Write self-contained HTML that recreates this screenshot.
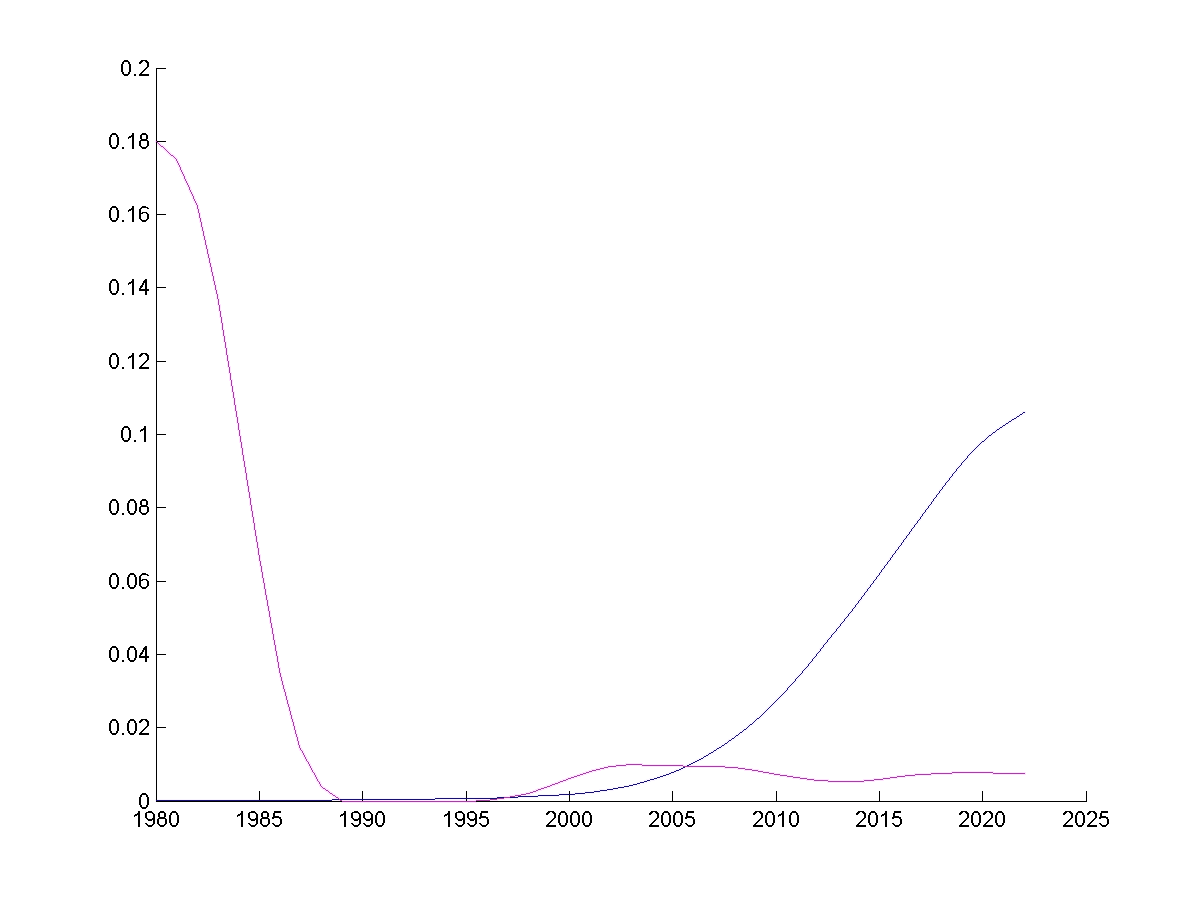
<!DOCTYPE html>
<html><head><meta charset="utf-8"><style>
html,body{margin:0;padding:0;background:#fff;width:1200px;height:900px;overflow:hidden}
svg{display:block}
</style></head><body>
<svg width="1200" height="900" viewBox="0 0 1200 900">
<rect width="1200" height="900" fill="#fff"/>
<path d="M156 800h176v1h-176zM332 799h103v1h-103zM435 798h62v1h-62zM497 797h21v1h-21zM518 796h20v1h-20zM538 795h21v1h-21zM559 794h16v1h-16zM575 793h10v1h-10zM585 792h9v1h-9zM594 791h6v1h-6zM600 790h7v1h-7zM607 789h6v1h-6zM613 788h5v1h-5zM618 787h6v1h-6zM624 786h5v1h-5zM629 785h4v1h-4zM633 784h4v1h-4zM637 783h3v1h-3zM640 782h4v1h-4zM644 781h3v1h-3zM647 780h3v1h-3zM650 779h4v1h-4zM654 778h3v1h-3zM657 777h3v1h-3zM660 776h3v1h-3zM663 775h3v1h-3zM666 774h3v1h-3zM669 773h2v1h-2zM671 772h3v1h-3zM674 771h2v1h-2zM676 770h3v1h-3zM679 769h2v1h-2zM681 768h2v1h-2zM683 767h2v1h-2zM685 766h2v1h-2zM687 765h2v1h-2zM689 764h2v1h-2zM691 763h2v1h-2zM693 762h2v1h-2zM695 761h2v1h-2zM697 760h2v1h-2zM699 759h2v1h-2zM701 758h2v1h-2zM703 757h1v1h-1zM704 756h2v1h-2zM706 755h2v1h-2zM708 754h1v1h-1zM709 753h2v1h-2zM711 752h2v1h-2zM713 751h1v1h-1zM714 750h2v1h-2zM716 749h1v1h-1zM717 748h2v1h-2zM719 747h2v1h-2zM721 746h1v1h-1zM722 745h2v1h-2zM724 744h1v1h-1zM725 743h2v1h-2zM727 742h1v1h-1zM728 741h1v1h-1zM729 740h2v1h-2zM731 739h1v1h-1zM732 738h2v1h-2zM734 737h1v1h-1zM735 736h1v1h-1zM736 735h2v1h-2zM738 734h1v1h-1zM739 733h1v1h-1zM740 732h2v1h-2zM742 731h1v1h-1zM743 730h1v1h-1zM744 729h2v1h-2zM746 728h1v1h-1zM747 727h1v1h-1zM748 726h1v1h-1zM749 725h1v1h-1zM750 724h2v1h-2zM752 723h1v1h-1zM753 722h1v1h-1zM754 721h1v1h-1zM755 720h1v1h-1zM756 719h1v1h-1zM757 718h2v1h-2zM759 717h1v1h-1zM760 716h1v1h-1zM761 715h1v1h-1zM762 714h1v1h-1zM763 713h1v1h-1zM764 712h1v1h-1zM765 711h1v1h-1zM766 710h1v1h-1zM767 709h1v1h-1zM768 708h1v1h-1zM769 707h1v1h-1zM770 706h1v1h-1zM771 705h1v1h-1zM772 704h1v1h-1zM773 703h1v1h-1zM774 702h1v1h-1zM775 701h1v1h-1zM776 700h1v1h-1zM777 699h1v1h-1zM778 698h1v1h-1zM779 697h1v1h-1zM780 696h1v1h-1zM781 695h1v1h-1zM782 694h1v1h-1zM783 693h1v1h-1zM784 692h1v1h-1zM785 691h1v1h-1zM786 690h1v1h-1zM787 688h1v2h-1zM788 687h1v1h-1zM789 686h1v1h-1zM790 685h1v1h-1zM791 684h1v1h-1zM792 683h1v1h-1zM793 682h1v1h-1zM794 681h1v1h-1zM795 679h1v2h-1zM796 678h1v1h-1zM797 677h1v1h-1zM798 676h1v1h-1zM799 675h1v1h-1zM800 674h1v1h-1zM801 673h1v1h-1zM802 671h1v2h-1zM803 670h1v1h-1zM804 669h1v1h-1zM805 668h1v1h-1zM806 667h1v1h-1zM807 666h1v1h-1zM808 664h1v2h-1zM809 663h1v1h-1zM810 662h1v1h-1zM811 661h1v1h-1zM812 659h1v2h-1zM813 658h1v1h-1zM814 657h1v1h-1zM815 656h1v1h-1zM816 654h1v2h-1zM817 653h1v1h-1zM818 652h1v1h-1zM819 651h1v1h-1zM820 649h1v2h-1zM821 648h1v1h-1zM822 647h1v1h-1zM823 645h1v2h-1zM824 644h1v1h-1zM825 643h1v1h-1zM826 642h1v1h-1zM827 640h1v2h-1zM828 639h1v1h-1zM829 638h1v1h-1zM830 637h1v1h-1zM831 635h1v2h-1zM832 634h1v1h-1zM833 633h1v1h-1zM834 632h1v1h-1zM835 631h1v1h-1zM836 629h1v2h-1zM837 628h1v1h-1zM838 627h1v1h-1zM839 626h1v1h-1zM840 624h1v2h-1zM841 623h1v1h-1zM842 622h1v1h-1zM843 621h1v1h-1zM844 619h1v2h-1zM845 618h1v1h-1zM846 617h1v1h-1zM847 616h1v1h-1zM848 614h1v2h-1zM849 613h1v1h-1zM850 612h1v1h-1zM851 611h1v1h-1zM852 609h1v2h-1zM853 608h1v1h-1zM854 607h1v1h-1zM855 605h1v2h-1zM856 604h1v1h-1zM857 603h1v1h-1zM858 601h1v2h-1zM859 600h1v1h-1zM860 599h1v1h-1zM861 597h1v2h-1zM862 596h1v1h-1zM863 595h1v1h-1zM864 593h1v2h-1zM865 592h1v1h-1zM866 591h1v1h-1zM867 589h1v2h-1zM868 588h1v1h-1zM869 587h1v1h-1zM870 585h1v2h-1zM871 584h1v1h-1zM872 583h1v1h-1zM873 581h1v2h-1zM874 580h1v1h-1zM875 579h1v1h-1zM876 577h1v2h-1zM877 576h1v1h-1zM878 575h1v1h-1zM879 573h1v2h-1zM880 572h1v1h-1zM881 570h1v2h-1zM882 569h1v1h-1zM883 568h1v1h-1zM884 566h1v2h-1zM885 565h1v1h-1zM886 564h1v1h-1zM887 562h1v2h-1zM888 561h1v1h-1zM889 560h1v1h-1zM890 558h1v2h-1zM891 557h1v1h-1zM892 555h1v2h-1zM893 554h1v1h-1zM894 553h1v1h-1zM895 551h1v2h-1zM896 550h1v1h-1zM897 549h1v1h-1zM898 547h1v2h-1zM899 546h1v1h-1zM900 545h1v1h-1zM901 543h1v2h-1zM902 542h1v1h-1zM903 540h1v2h-1zM904 539h1v1h-1zM905 538h1v1h-1zM906 536h1v2h-1zM907 535h1v1h-1zM908 534h1v1h-1zM909 532h1v2h-1zM910 531h1v1h-1zM911 529h1v2h-1zM912 528h1v1h-1zM913 527h1v1h-1zM914 525h1v2h-1zM915 524h1v1h-1zM916 523h1v1h-1zM917 521h1v2h-1zM918 520h1v1h-1zM919 519h1v1h-1zM920 517h1v2h-1zM921 516h1v1h-1zM922 514h1v2h-1zM923 513h1v1h-1zM924 512h1v1h-1zM925 510h1v2h-1zM926 509h1v1h-1zM927 508h1v1h-1zM928 506h1v2h-1zM929 505h1v1h-1zM930 504h1v1h-1zM931 502h1v2h-1zM932 501h1v1h-1zM933 499h1v2h-1zM934 498h1v1h-1zM935 497h1v1h-1zM936 495h1v2h-1zM937 494h1v1h-1zM938 493h1v1h-1zM939 491h1v2h-1zM940 490h1v1h-1zM941 489h1v1h-1zM942 487h1v2h-1zM943 486h1v1h-1zM944 485h1v1h-1zM945 483h1v2h-1zM946 482h1v1h-1zM947 481h1v1h-1zM948 480h1v1h-1zM949 478h1v2h-1zM950 477h1v1h-1zM951 476h1v1h-1zM952 474h1v2h-1zM953 473h1v1h-1zM954 472h1v1h-1zM955 471h1v1h-1zM956 469h1v2h-1zM957 468h1v1h-1zM958 467h1v1h-1zM959 466h1v1h-1zM960 465h1v1h-1zM961 463h1v2h-1zM962 462h1v1h-1zM963 461h1v1h-1zM964 460h1v1h-1zM965 459h1v1h-1zM966 458h1v1h-1zM967 456h1v2h-1zM968 455h1v1h-1zM969 454h1v1h-1zM970 453h1v1h-1zM971 452h1v1h-1zM972 451h1v1h-1zM973 450h1v1h-1zM974 449h1v1h-1zM975 448h1v1h-1zM976 447h1v1h-1zM977 446h1v1h-1zM978 445h1v1h-1zM979 444h1v1h-1zM980 443h1v1h-1zM981 442h1v1h-1zM982 441h2v1h-2zM984 440h1v1h-1zM985 439h1v1h-1zM986 438h1v1h-1zM987 437h1v1h-1zM988 436h1v1h-1zM989 435h2v1h-2zM991 434h1v1h-1zM992 433h1v1h-1zM993 432h2v1h-2zM995 431h1v1h-1zM996 430h1v1h-1zM997 429h2v1h-2zM999 428h1v1h-1zM1000 427h2v1h-2zM1002 426h1v1h-1zM1003 425h2v1h-2zM1005 424h1v1h-1zM1006 423h2v1h-2zM1008 422h1v1h-1zM1009 421h2v1h-2zM1011 420h1v1h-1zM1012 419h2v1h-2zM1014 418h2v1h-2zM1016 417h1v1h-1zM1017 416h2v1h-2zM1019 415h1v1h-1zM1020 414h2v1h-2zM1022 413h1v1h-1zM1023 412h2v1h-2z" fill="#f9f5ff" stroke="#f9f5ff" stroke-width="2" stroke-linejoin="miter" shape-rendering="crispEdges"/>
<path d="M156 141h1v1h-1zM157 142h1v1h-1zM158 143h1v1h-1zM159 144h1v1h-1zM160 145h1v1h-1zM161 146h2v1h-2zM163 147h1v1h-1zM164 148h1v1h-1zM165 149h1v1h-1zM166 150h1v1h-1zM167 151h1v1h-1zM168 152h1v1h-1zM169 153h1v1h-1zM170 154h1v1h-1zM171 155h2v1h-2zM173 156h1v1h-1zM174 157h1v1h-1zM175 158h1v1h-1zM176 159h1v2h-1zM177 161h1v2h-1zM178 163h1v2h-1zM179 165h1v2h-1zM180 167h1v3h-1zM181 170h1v2h-1zM182 172h1v2h-1zM183 174h1v2h-1zM184 176h1v3h-1zM185 179h1v2h-1zM186 181h1v2h-1zM187 183h1v2h-1zM188 185h1v2h-1zM189 187h1v3h-1zM190 190h1v2h-1zM191 192h1v2h-1zM192 194h1v2h-1zM193 196h1v3h-1zM194 199h1v2h-1zM195 201h1v2h-1zM196 203h1v2h-1zM197 205h1v4h-1zM198 209h1v4h-1zM199 213h1v5h-1zM200 218h1v4h-1zM201 222h1v5h-1zM202 227h1v4h-1zM203 231h1v5h-1zM204 236h1v4h-1zM205 240h1v5h-1zM206 245h1v4h-1zM207 249h1v5h-1zM208 254h1v4h-1zM209 258h1v5h-1zM210 263h1v4h-1zM211 267h1v5h-1zM212 272h1v4h-1zM213 276h1v5h-1zM214 281h1v4h-1zM215 285h1v5h-1zM216 290h1v4h-1zM217 294h1v5h-1zM218 299h1v6h-1zM219 305h1v6h-1zM220 311h1v6h-1zM221 317h1v6h-1zM222 323h1v7h-1zM223 330h1v6h-1zM224 336h1v6h-1zM225 342h1v6h-1zM226 348h1v7h-1zM227 355h1v6h-1zM228 361h1v6h-1zM229 367h1v6h-1zM230 373h1v7h-1zM231 380h1v6h-1zM232 386h1v6h-1zM233 392h1v6h-1zM234 398h1v7h-1zM235 405h1v6h-1zM236 411h1v6h-1zM237 417h1v6h-1zM238 423h1v7h-1zM239 430h1v6h-1zM240 436h1v6h-1zM241 442h1v6h-1zM242 448h1v7h-1zM243 455h1v6h-1zM244 461h1v6h-1zM245 467h1v6h-1zM246 473h1v7h-1zM247 480h1v6h-1zM248 486h1v6h-1zM249 492h1v6h-1zM250 498h1v7h-1zM251 505h1v6h-1zM252 511h1v6h-1zM253 517h1v6h-1zM254 523h1v7h-1zM255 530h1v6h-1zM256 536h1v6h-1zM257 542h1v6h-1zM258 548h1v7h-1zM259 555h1v6h-1zM260 561h1v5h-1zM261 566h1v6h-1zM262 572h1v6h-1zM263 578h1v5h-1zM264 583h1v6h-1zM265 589h1v6h-1zM266 595h1v5h-1zM267 600h1v6h-1zM268 606h1v5h-1zM269 611h1v6h-1zM270 617h1v6h-1zM271 623h1v5h-1zM272 628h1v6h-1zM273 634h1v6h-1zM274 640h1v5h-1zM275 645h1v6h-1zM276 651h1v5h-1zM277 656h1v6h-1zM278 662h1v6h-1zM279 668h1v5h-1zM280 673h1v4h-1zM281 677h1v4h-1zM282 681h1v4h-1zM283 685h1v4h-1zM284 689h1v3h-1zM285 692h1v4h-1zM286 696h1v4h-1zM287 700h1v4h-1zM288 704h1v3h-1zM289 707h1v4h-1zM290 711h1v4h-1zM291 715h1v4h-1zM292 719h1v3h-1zM293 722h1v4h-1zM294 726h1v4h-1zM295 730h1v4h-1zM296 734h1v3h-1zM297 737h1v4h-1zM298 741h1v4h-1zM299 745h1v3h-1zM300 748h1v2h-1zM301 750h1v1h-1zM302 751h1v2h-1zM303 753h1v2h-1zM304 755h1v2h-1zM305 757h1v2h-1zM306 759h1v2h-1zM307 761h1v1h-1zM308 762h1v2h-1zM309 764h1v2h-1zM310 766h1v2h-1zM311 768h1v2h-1zM312 770h1v2h-1zM313 772h1v1h-1zM314 773h1v2h-1zM315 775h1v2h-1zM316 777h1v2h-1zM317 779h1v2h-1zM318 781h1v1h-1zM319 782h1v2h-1zM320 784h1v2h-1zM321 786h1v1h-1zM322 787h1v1h-1zM323 788h2v1h-2zM325 789h1v1h-1zM326 790h2v1h-2zM328 791h1v1h-1zM329 792h1v1h-1zM330 793h2v1h-2zM332 794h1v1h-1zM333 795h2v1h-2zM335 796h1v1h-1zM336 797h2v1h-2zM338 798h1v1h-1zM339 799h1v1h-1zM340 800h2v1h-2zM342 801h134v1h-134zM476 800h14v1h-14zM490 799h7v1h-7zM497 798h7v1h-7zM504 797h6v1h-6zM510 796h5v1h-5zM515 795h6v1h-6zM521 794h5v1h-5zM526 793h4v1h-4zM530 792h3v1h-3zM533 791h3v1h-3zM536 790h2v1h-2zM538 789h3v1h-3zM541 788h3v1h-3zM544 787h3v1h-3zM547 786h3v1h-3zM550 785h2v1h-2zM552 784h3v1h-3zM555 783h3v1h-3zM558 782h2v1h-2zM560 781h3v1h-3zM563 780h3v1h-3zM566 779h2v1h-2zM568 778h3v1h-3zM571 777h3v1h-3zM574 776h3v1h-3zM577 775h3v1h-3zM580 774h3v1h-3zM583 773h3v1h-3zM586 772h3v1h-3zM589 771h3v1h-3zM592 770h4v1h-4zM596 769h4v1h-4zM600 768h4v1h-4zM604 767h4v1h-4zM608 766h8v1h-8zM616 765h10v1h-10zM626 764h16v1h-16zM642 765h41v1h-41zM683 766h42v1h-42zM725 767h13v1h-13zM738 768h7v1h-7zM745 769h7v1h-7zM752 770h6v1h-6zM758 771h5v1h-5zM763 772h6v1h-6zM769 773h5v1h-5zM774 774h6v1h-6zM780 775h7v1h-7zM787 776h6v1h-6zM793 777h7v1h-7zM800 778h7v1h-7zM807 779h7v1h-7zM814 780h14v1h-14zM828 781h36v1h-36zM864 780h10v1h-10zM874 779h9v1h-9zM883 778h7v1h-7zM890 777h7v1h-7zM897 776h8v1h-8zM905 775h10v1h-10zM915 774h16v1h-16zM931 773h21v1h-21zM952 772h41v1h-41zM993 773h32v1h-32z" fill="#ffe5ff" stroke="#ffe5ff" stroke-width="2" stroke-linejoin="miter" shape-rendering="crispEdges"/>
<path d="M156 68h1v734h-1zM156 801h931v1h-931zM156 801h10v1h-10zM156 727h10v1h-10zM156 654h10v1h-10zM156 581h10v1h-10zM156 507h10v1h-10zM156 434h10v1h-10zM156 361h10v1h-10zM156 287h10v1h-10zM156 214h10v1h-10zM156 141h10v1h-10zM156 68h10v1h-10zM156 791h1v11h-1zM259 791h1v11h-1zM362 791h1v11h-1zM466 791h1v11h-1zM569 791h1v11h-1zM672 791h1v11h-1zM776 791h1v11h-1zM879 791h1v11h-1zM982 791h1v11h-1zM1086 791h1v11h-1zM109 137h2v8h-2zM109 210h2v8h-2zM109 283h2v8h-2zM109 357h2v8h-2zM109 503h2v8h-2zM109 577h2v8h-2zM109 650h2v8h-2zM109 723h2v8h-2zM110 135h2v2h-2zM110 145h2v2h-2zM110 208h2v2h-2zM110 218h2v2h-2zM110 281h2v2h-2zM110 291h2v2h-2zM110 355h2v2h-2zM110 365h2v2h-2zM110 501h2v2h-2zM110 511h2v2h-2zM110 575h2v2h-2zM110 585h2v2h-2zM110 648h2v2h-2zM110 658h2v2h-2zM110 721h2v2h-2zM110 731h2v2h-2zM111 134h6v1h-6zM111 147h6v1h-6zM111 207h6v1h-6zM111 220h6v1h-6zM111 280h6v1h-6zM111 293h6v1h-6zM111 354h6v1h-6zM111 367h6v1h-6zM111 500h6v1h-6zM111 513h6v1h-6zM111 574h6v1h-6zM111 587h6v1h-6zM111 647h6v1h-6zM111 660h6v1h-6zM111 720h6v1h-6zM111 733h6v1h-6zM112 133h4v1h-4zM112 148h4v1h-4zM112 206h4v1h-4zM112 221h4v1h-4zM112 279h4v1h-4zM112 294h4v1h-4zM112 353h4v1h-4zM112 368h4v1h-4zM112 499h4v1h-4zM112 514h4v1h-4zM112 573h4v1h-4zM112 588h4v1h-4zM112 646h4v1h-4zM112 661h4v1h-4zM112 719h4v1h-4zM112 734h4v1h-4zM116 135h2v2h-2zM116 145h2v2h-2zM116 208h2v2h-2zM116 218h2v2h-2zM116 281h2v2h-2zM116 291h2v2h-2zM116 355h2v2h-2zM116 365h2v2h-2zM116 501h2v2h-2zM116 511h2v2h-2zM116 575h2v2h-2zM116 585h2v2h-2zM116 648h2v2h-2zM116 658h2v2h-2zM116 721h2v2h-2zM116 731h2v2h-2zM117 137h2v8h-2zM117 210h2v8h-2zM117 283h2v8h-2zM117 357h2v8h-2zM117 503h2v8h-2zM117 577h2v8h-2zM117 650h2v8h-2zM117 723h2v8h-2zM121 64h2v8h-2zM121 430h2v8h-2zM122 62h2v2h-2zM122 72h2v2h-2zM122 147h2v2h-2zM122 220h2v2h-2zM122 293h2v2h-2zM122 367h2v2h-2zM122 428h2v2h-2zM122 438h2v2h-2zM122 513h2v2h-2zM122 587h2v2h-2zM122 660h2v2h-2zM122 733h2v2h-2zM123 61h6v1h-6zM123 74h6v1h-6zM123 427h6v1h-6zM123 440h6v1h-6zM124 60h4v1h-4zM124 75h4v1h-4zM124 426h4v1h-4zM124 441h4v1h-4zM127 503h2v8h-2zM127 577h2v8h-2zM127 650h2v8h-2zM127 723h2v8h-2zM128 138h1v1h-1zM128 211h1v1h-1zM128 284h1v1h-1zM128 358h1v1h-1zM128 62h2v2h-2zM128 72h2v2h-2zM128 428h2v2h-2zM128 438h2v2h-2zM128 501h2v2h-2zM128 511h2v2h-2zM128 575h2v2h-2zM128 585h2v2h-2zM128 648h2v2h-2zM128 658h2v2h-2zM128 721h2v2h-2zM128 731h2v2h-2zM128 137h3v1h-3zM128 210h3v1h-3zM128 283h3v1h-3zM128 357h3v1h-3zM129 64h2v8h-2zM129 430h2v8h-2zM129 136h5v1h-5zM129 209h5v1h-5zM129 282h5v1h-5zM129 356h5v1h-5zM129 500h6v1h-6zM129 513h6v1h-6zM129 574h6v1h-6zM129 587h6v1h-6zM129 647h6v1h-6zM129 660h6v1h-6zM129 720h6v1h-6zM129 733h6v1h-6zM130 499h4v1h-4zM130 514h4v1h-4zM130 573h4v1h-4zM130 588h4v1h-4zM130 646h4v1h-4zM130 661h4v1h-4zM130 719h4v1h-4zM130 734h4v1h-4zM131 135h3v1h-3zM131 208h3v1h-3zM131 281h3v1h-3zM131 355h3v1h-3zM132 133h2v2h-2zM132 137h2v12h-2zM132 206h2v2h-2zM132 210h2v12h-2zM132 279h2v2h-2zM132 283h2v12h-2zM132 353h2v2h-2zM132 357h2v12h-2zM134 816h1v1h-1zM134 74h2v2h-2zM134 440h2v2h-2zM134 501h2v2h-2zM134 511h2v2h-2zM134 575h2v2h-2zM134 585h2v2h-2zM134 648h2v2h-2zM134 658h2v2h-2zM134 721h2v2h-2zM134 731h2v2h-2zM134 815h3v1h-3zM135 503h2v8h-2zM135 577h2v8h-2zM135 650h2v8h-2zM135 723h2v8h-2zM135 814h5v1h-5zM137 813h3v1h-3zM138 811h2v2h-2zM138 815h2v12h-2zM139 63h2v1h-2zM139 141h2v5h-2zM139 209h2v4h-2zM139 214h2v5h-2zM139 288h2v1h-2zM139 356h2v1h-2zM139 507h2v5h-2zM139 576h2v4h-2zM139 581h2v5h-2zM139 655h2v1h-2zM139 722h2v1h-2zM139 797h2v8h-2zM139 62h3v1h-3zM139 355h3v1h-3zM139 721h3v1h-3zM139 213h4v1h-4zM139 580h4v1h-4zM139 74h10v2h-10zM139 289h10v2h-10zM139 367h10v2h-10zM139 656h10v2h-10zM139 733h10v2h-10zM140 431h1v1h-1zM140 73h2v1h-2zM140 135h2v4h-2zM140 146h2v1h-2zM140 208h2v1h-2zM140 219h2v1h-2zM140 287h2v1h-2zM140 366h2v1h-2zM140 501h2v4h-2zM140 512h2v1h-2zM140 575h2v1h-2zM140 586h2v1h-2zM140 654h2v1h-2zM140 732h2v1h-2zM140 795h2v2h-2zM140 805h2v2h-2zM140 61h3v1h-3zM140 286h3v1h-3zM140 354h3v1h-3zM140 430h3v1h-3zM140 653h3v1h-3zM140 720h3v1h-3zM140 140h8v1h-8zM140 506h8v1h-8zM141 72h2v1h-2zM141 285h2v1h-2zM141 365h2v1h-2zM141 652h2v1h-2zM141 731h2v1h-2zM141 429h5v1h-5zM141 60h6v1h-6zM141 134h6v1h-6zM141 139h6v1h-6zM141 147h6v1h-6zM141 220h6v1h-6zM141 353h6v1h-6zM141 500h6v1h-6zM141 505h6v1h-6zM141 513h6v1h-6zM141 587h6v1h-6zM141 719h6v1h-6zM141 794h6v1h-6zM141 807h6v1h-6zM141 207h7v1h-7zM141 574h7v1h-7zM142 71h2v1h-2zM142 283h2v2h-2zM142 364h2v1h-2zM142 650h2v2h-2zM142 730h2v1h-2zM142 133h4v1h-4zM142 148h4v1h-4zM142 206h4v1h-4zM142 221h4v1h-4zM142 499h4v1h-4zM142 514h4v1h-4zM142 573h4v1h-4zM142 588h4v1h-4zM142 793h4v1h-4zM142 808h4v1h-4zM142 212h5v1h-5zM142 579h5v1h-5zM143 70h2v1h-2zM143 363h2v1h-2zM143 729h2v1h-2zM143 428h3v1h-3zM143 281h4v2h-4zM143 648h4v2h-4zM144 69h2v1h-2zM144 362h2v1h-2zM144 426h2v2h-2zM144 430h2v12h-2zM144 728h2v1h-2zM144 280h3v1h-3zM144 647h3v1h-3zM145 68h2v1h-2zM145 279h2v1h-2zM145 283h2v6h-2zM145 291h2v4h-2zM145 361h2v1h-2zM145 646h2v1h-2zM145 650h2v6h-2zM145 658h2v4h-2zM145 727h2v1h-2zM145 813h2v5h-2zM145 823h2v1h-2zM145 61h3v1h-3zM145 354h3v1h-3zM145 720h3v1h-3zM146 67h2v1h-2zM146 135h2v4h-2zM146 146h2v1h-2zM146 213h2v1h-2zM146 219h2v1h-2zM146 360h2v1h-2zM146 501h2v4h-2zM146 512h2v1h-2zM146 580h2v1h-2zM146 586h2v1h-2zM146 726h2v1h-2zM146 795h2v2h-2zM146 805h2v2h-2zM146 818h2v1h-2zM146 824h2v1h-2zM146 62h3v1h-3zM146 355h3v1h-3zM146 721h3v1h-3zM146 812h7v1h-7zM147 63h2v4h-2zM147 141h2v5h-2zM147 208h2v1h-2zM147 214h2v5h-2zM147 356h2v4h-2zM147 507h2v5h-2zM147 575h2v1h-2zM147 581h2v5h-2zM147 722h2v4h-2zM147 797h2v8h-2zM147 825h6v1h-6zM147 819h8v1h-8zM148 811h4v1h-4zM148 820h4v1h-4zM148 826h4v1h-4zM152 813h2v1h-2zM152 824h2v1h-2zM152 818h3v1h-3zM153 814h2v4h-2zM153 820h2v4h-2zM157 819h2v5h-2zM158 813h2v4h-2zM158 824h2v1h-2zM158 818h8v1h-8zM159 812h6v1h-6zM159 817h6v1h-6zM159 825h6v1h-6zM160 811h4v1h-4zM160 826h4v1h-4zM164 813h2v4h-2zM164 824h2v1h-2zM165 819h2v5h-2zM169 815h2v8h-2zM170 813h2v2h-2zM170 823h2v2h-2zM171 812h6v1h-6zM171 825h6v1h-6zM172 811h4v1h-4zM172 826h4v1h-4zM176 813h2v2h-2zM176 823h2v2h-2zM177 815h2v8h-2zM237 816h1v1h-1zM237 815h3v1h-3zM238 814h5v1h-5zM240 813h3v1h-3zM241 811h2v2h-2zM241 815h2v12h-2zM248 813h2v5h-2zM248 823h2v1h-2zM249 818h2v1h-2zM249 824h2v1h-2zM249 812h7v1h-7zM250 825h6v1h-6zM250 819h8v1h-8zM251 811h4v1h-4zM251 820h4v1h-4zM251 826h4v1h-4zM255 813h2v1h-2zM255 824h2v1h-2zM255 818h3v1h-3zM256 814h2v4h-2zM256 820h2v4h-2zM260 819h2v5h-2zM261 813h2v4h-2zM261 824h2v1h-2zM261 818h8v1h-8zM262 812h6v1h-6zM262 817h6v1h-6zM262 825h6v1h-6zM263 811h4v1h-4zM263 826h4v1h-4zM267 813h2v4h-2zM267 824h2v1h-2zM268 819h2v5h-2zM272 818h2v1h-2zM272 823h2v1h-2zM272 817h9v1h-9zM273 813h2v3h-2zM273 824h2v1h-2zM273 816h6v1h-6zM274 825h6v1h-6zM274 811h7v2h-7zM275 826h4v1h-4zM279 818h2v1h-2zM279 824h2v1h-2zM280 819h2v5h-2zM340 816h1v1h-1zM340 815h3v1h-3zM341 814h5v1h-5zM343 813h3v1h-3zM344 811h2v2h-2zM344 815h2v12h-2zM351 813h2v5h-2zM351 823h2v1h-2zM352 818h2v1h-2zM352 824h2v1h-2zM352 812h7v1h-7zM353 825h6v1h-6zM353 819h8v1h-8zM354 811h4v1h-4zM354 820h4v1h-4zM354 826h4v1h-4zM358 813h2v1h-2zM358 824h2v1h-2zM358 818h3v1h-3zM359 814h2v4h-2zM359 820h2v4h-2zM363 813h2v5h-2zM363 823h2v1h-2zM364 818h2v1h-2zM364 824h2v1h-2zM364 812h7v1h-7zM365 825h6v1h-6zM365 819h8v1h-8zM366 811h4v1h-4zM366 820h4v1h-4zM366 826h4v1h-4zM370 813h2v1h-2zM370 824h2v1h-2zM370 818h3v1h-3zM371 814h2v4h-2zM371 820h2v4h-2zM375 815h2v8h-2zM376 813h2v2h-2zM376 823h2v2h-2zM377 812h6v1h-6zM377 825h6v1h-6zM378 811h4v1h-4zM378 826h4v1h-4zM382 813h2v2h-2zM382 823h2v2h-2zM383 815h2v8h-2zM444 816h1v1h-1zM444 815h3v1h-3zM445 814h5v1h-5zM447 813h3v1h-3zM448 811h2v2h-2zM448 815h2v12h-2zM455 813h2v5h-2zM455 823h2v1h-2zM456 818h2v1h-2zM456 824h2v1h-2zM456 812h7v1h-7zM457 825h6v1h-6zM457 819h8v1h-8zM458 811h4v1h-4zM458 820h4v1h-4zM458 826h4v1h-4zM462 813h2v1h-2zM462 824h2v1h-2zM462 818h3v1h-3zM463 814h2v4h-2zM463 820h2v4h-2zM467 813h2v5h-2zM467 823h2v1h-2zM468 818h2v1h-2zM468 824h2v1h-2zM468 812h7v1h-7zM469 825h6v1h-6zM469 819h8v1h-8zM470 811h4v1h-4zM470 820h4v1h-4zM470 826h4v1h-4zM474 813h2v1h-2zM474 824h2v1h-2zM474 818h3v1h-3zM475 814h2v4h-2zM475 820h2v4h-2zM479 818h2v1h-2zM479 823h2v1h-2zM479 817h9v1h-9zM480 813h2v3h-2zM480 824h2v1h-2zM480 816h6v1h-6zM481 825h6v1h-6zM481 811h7v2h-7zM482 826h4v1h-4zM486 818h2v1h-2zM486 824h2v1h-2zM487 819h2v5h-2zM546 814h2v1h-2zM546 813h3v1h-3zM546 825h10v2h-10zM547 824h2v1h-2zM547 812h3v1h-3zM548 823h2v1h-2zM548 811h6v1h-6zM549 822h2v1h-2zM550 821h2v1h-2zM551 820h2v1h-2zM552 819h2v1h-2zM552 812h3v1h-3zM553 818h2v1h-2zM553 813h3v1h-3zM554 814h2v4h-2zM558 815h2v8h-2zM559 813h2v2h-2zM559 823h2v2h-2zM560 812h6v1h-6zM560 825h6v1h-6zM561 811h4v1h-4zM561 826h4v1h-4zM565 813h2v2h-2zM565 823h2v2h-2zM566 815h2v8h-2zM570 815h2v8h-2zM571 813h2v2h-2zM571 823h2v2h-2zM572 812h6v1h-6zM572 825h6v1h-6zM573 811h4v1h-4zM573 826h4v1h-4zM577 813h2v2h-2zM577 823h2v2h-2zM578 815h2v8h-2zM582 815h2v8h-2zM583 813h2v2h-2zM583 823h2v2h-2zM584 812h6v1h-6zM584 825h6v1h-6zM585 811h4v1h-4zM585 826h4v1h-4zM589 813h2v2h-2zM589 823h2v2h-2zM590 815h2v8h-2zM649 814h2v1h-2zM649 813h3v1h-3zM649 825h10v2h-10zM650 824h2v1h-2zM650 812h3v1h-3zM651 823h2v1h-2zM651 811h6v1h-6zM652 822h2v1h-2zM653 821h2v1h-2zM654 820h2v1h-2zM655 819h2v1h-2zM655 812h3v1h-3zM656 818h2v1h-2zM656 813h3v1h-3zM657 814h2v4h-2zM661 815h2v8h-2zM662 813h2v2h-2zM662 823h2v2h-2zM663 812h6v1h-6zM663 825h6v1h-6zM664 811h4v1h-4zM664 826h4v1h-4zM668 813h2v2h-2zM668 823h2v2h-2zM669 815h2v8h-2zM673 815h2v8h-2zM674 813h2v2h-2zM674 823h2v2h-2zM675 812h6v1h-6zM675 825h6v1h-6zM676 811h4v1h-4zM676 826h4v1h-4zM680 813h2v2h-2zM680 823h2v2h-2zM681 815h2v8h-2zM685 818h2v1h-2zM685 823h2v1h-2zM685 817h9v1h-9zM686 813h2v3h-2zM686 824h2v1h-2zM686 816h6v1h-6zM687 825h6v1h-6zM687 811h7v2h-7zM688 826h4v1h-4zM692 818h2v1h-2zM692 824h2v1h-2zM693 819h2v5h-2zM753 814h2v1h-2zM753 813h3v1h-3zM753 825h10v2h-10zM754 824h2v1h-2zM754 812h3v1h-3zM755 823h2v1h-2zM755 811h6v1h-6zM756 822h2v1h-2zM757 821h2v1h-2zM758 820h2v1h-2zM759 819h2v1h-2zM759 812h3v1h-3zM760 818h2v1h-2zM760 813h3v1h-3zM761 814h2v4h-2zM765 815h2v8h-2zM766 813h2v2h-2zM766 823h2v2h-2zM767 812h6v1h-6zM767 825h6v1h-6zM768 811h4v1h-4zM768 826h4v1h-4zM772 813h2v2h-2zM772 823h2v2h-2zM773 815h2v8h-2zM778 816h1v1h-1zM778 815h3v1h-3zM779 814h5v1h-5zM781 813h3v1h-3zM782 811h2v2h-2zM782 815h2v12h-2zM789 815h2v8h-2zM790 813h2v2h-2zM790 823h2v2h-2zM791 812h6v1h-6zM791 825h6v1h-6zM792 811h4v1h-4zM792 826h4v1h-4zM796 813h2v2h-2zM796 823h2v2h-2zM797 815h2v8h-2zM856 814h2v1h-2zM856 813h3v1h-3zM856 825h10v2h-10zM857 824h2v1h-2zM857 812h3v1h-3zM858 823h2v1h-2zM858 811h6v1h-6zM859 822h2v1h-2zM860 821h2v1h-2zM861 820h2v1h-2zM862 819h2v1h-2zM862 812h3v1h-3zM863 818h2v1h-2zM863 813h3v1h-3zM864 814h2v4h-2zM868 815h2v8h-2zM869 813h2v2h-2zM869 823h2v2h-2zM870 812h6v1h-6zM870 825h6v1h-6zM871 811h4v1h-4zM871 826h4v1h-4zM875 813h2v2h-2zM875 823h2v2h-2zM876 815h2v8h-2zM881 816h1v1h-1zM881 815h3v1h-3zM882 814h5v1h-5zM884 813h3v1h-3zM885 811h2v2h-2zM885 815h2v12h-2zM892 818h2v1h-2zM892 823h2v1h-2zM892 817h9v1h-9zM893 813h2v3h-2zM893 824h2v1h-2zM893 816h6v1h-6zM894 825h6v1h-6zM894 811h7v2h-7zM895 826h4v1h-4zM899 818h2v1h-2zM899 824h2v1h-2zM900 819h2v5h-2zM959 814h2v1h-2zM959 813h3v1h-3zM959 825h10v2h-10zM960 824h2v1h-2zM960 812h3v1h-3zM961 823h2v1h-2zM961 811h6v1h-6zM962 822h2v1h-2zM963 821h2v1h-2zM964 820h2v1h-2zM965 819h2v1h-2zM965 812h3v1h-3zM966 818h2v1h-2zM966 813h3v1h-3zM967 814h2v4h-2zM971 815h2v8h-2zM972 813h2v2h-2zM972 823h2v2h-2zM973 812h6v1h-6zM973 825h6v1h-6zM974 811h4v1h-4zM974 826h4v1h-4zM978 813h2v2h-2zM978 823h2v2h-2zM979 815h2v8h-2zM983 814h2v1h-2zM983 813h3v1h-3zM983 825h10v2h-10zM984 824h2v1h-2zM984 812h3v1h-3zM985 823h2v1h-2zM985 811h6v1h-6zM986 822h2v1h-2zM987 821h2v1h-2zM988 820h2v1h-2zM989 819h2v1h-2zM989 812h3v1h-3zM990 818h2v1h-2zM990 813h3v1h-3zM991 814h2v4h-2zM995 815h2v8h-2zM996 813h2v2h-2zM996 823h2v2h-2zM997 812h6v1h-6zM997 825h6v1h-6zM998 811h4v1h-4zM998 826h4v1h-4zM1002 813h2v2h-2zM1002 823h2v2h-2zM1003 815h2v8h-2zM1063 814h2v1h-2zM1063 813h3v1h-3zM1063 825h10v2h-10zM1064 824h2v1h-2zM1064 812h3v1h-3zM1065 823h2v1h-2zM1065 811h6v1h-6zM1066 822h2v1h-2zM1067 821h2v1h-2zM1068 820h2v1h-2zM1069 819h2v1h-2zM1069 812h3v1h-3zM1070 818h2v1h-2zM1070 813h3v1h-3zM1071 814h2v4h-2zM1075 815h2v8h-2zM1076 813h2v2h-2zM1076 823h2v2h-2zM1077 812h6v1h-6zM1077 825h6v1h-6zM1078 811h4v1h-4zM1078 826h4v1h-4zM1082 813h2v2h-2zM1082 823h2v2h-2zM1083 815h2v8h-2zM1087 814h2v1h-2zM1087 813h3v1h-3zM1087 825h10v2h-10zM1088 824h2v1h-2zM1088 812h3v1h-3zM1089 823h2v1h-2zM1089 811h6v1h-6zM1090 822h2v1h-2zM1091 821h2v1h-2zM1092 820h2v1h-2zM1093 819h2v1h-2zM1093 812h3v1h-3zM1094 818h2v1h-2zM1094 813h3v1h-3zM1095 814h2v4h-2zM1099 818h2v1h-2zM1099 823h2v1h-2zM1099 817h9v1h-9zM1100 813h2v3h-2zM1100 824h2v1h-2zM1100 816h6v1h-6zM1101 825h6v1h-6zM1101 811h7v2h-7zM1102 826h4v1h-4zM1106 818h2v1h-2zM1106 824h2v1h-2zM1107 819h2v5h-2z" fill="#000" shape-rendering="crispEdges"/>
<path d="M156 800h176v1h-176zM332 799h103v1h-103zM435 798h62v1h-62zM497 797h21v1h-21zM518 796h20v1h-20zM538 795h21v1h-21zM559 794h16v1h-16zM575 793h10v1h-10zM585 792h9v1h-9zM594 791h6v1h-6zM600 790h7v1h-7zM607 789h6v1h-6zM613 788h5v1h-5zM618 787h6v1h-6zM624 786h5v1h-5zM629 785h4v1h-4zM633 784h4v1h-4zM637 783h3v1h-3zM640 782h4v1h-4zM644 781h3v1h-3zM647 780h3v1h-3zM650 779h4v1h-4zM654 778h3v1h-3zM657 777h3v1h-3zM660 776h3v1h-3zM663 775h3v1h-3zM666 774h3v1h-3zM669 773h2v1h-2zM671 772h3v1h-3zM674 771h2v1h-2zM676 770h3v1h-3zM679 769h2v1h-2zM681 768h2v1h-2zM683 767h2v1h-2zM685 766h2v1h-2zM687 765h2v1h-2zM689 764h2v1h-2zM691 763h2v1h-2zM693 762h2v1h-2zM695 761h2v1h-2zM697 760h2v1h-2zM699 759h2v1h-2zM701 758h2v1h-2zM703 757h1v1h-1zM704 756h2v1h-2zM706 755h2v1h-2zM708 754h1v1h-1zM709 753h2v1h-2zM711 752h2v1h-2zM713 751h1v1h-1zM714 750h2v1h-2zM716 749h1v1h-1zM717 748h2v1h-2zM719 747h2v1h-2zM721 746h1v1h-1zM722 745h2v1h-2zM724 744h1v1h-1zM725 743h2v1h-2zM727 742h1v1h-1zM728 741h1v1h-1zM729 740h2v1h-2zM731 739h1v1h-1zM732 738h2v1h-2zM734 737h1v1h-1zM735 736h1v1h-1zM736 735h2v1h-2zM738 734h1v1h-1zM739 733h1v1h-1zM740 732h2v1h-2zM742 731h1v1h-1zM743 730h1v1h-1zM744 729h2v1h-2zM746 728h1v1h-1zM747 727h1v1h-1zM748 726h1v1h-1zM749 725h1v1h-1zM750 724h2v1h-2zM752 723h1v1h-1zM753 722h1v1h-1zM754 721h1v1h-1zM755 720h1v1h-1zM756 719h1v1h-1zM757 718h2v1h-2zM759 717h1v1h-1zM760 716h1v1h-1zM761 715h1v1h-1zM762 714h1v1h-1zM763 713h1v1h-1zM764 712h1v1h-1zM765 711h1v1h-1zM766 710h1v1h-1zM767 709h1v1h-1zM768 708h1v1h-1zM769 707h1v1h-1zM770 706h1v1h-1zM771 705h1v1h-1zM772 704h1v1h-1zM773 703h1v1h-1zM774 702h1v1h-1zM775 701h1v1h-1zM776 700h1v1h-1zM777 699h1v1h-1zM778 698h1v1h-1zM779 697h1v1h-1zM780 696h1v1h-1zM781 695h1v1h-1zM782 694h1v1h-1zM783 693h1v1h-1zM784 692h1v1h-1zM785 691h1v1h-1zM786 690h1v1h-1zM787 688h1v2h-1zM788 687h1v1h-1zM789 686h1v1h-1zM790 685h1v1h-1zM791 684h1v1h-1zM792 683h1v1h-1zM793 682h1v1h-1zM794 681h1v1h-1zM795 679h1v2h-1zM796 678h1v1h-1zM797 677h1v1h-1zM798 676h1v1h-1zM799 675h1v1h-1zM800 674h1v1h-1zM801 673h1v1h-1zM802 671h1v2h-1zM803 670h1v1h-1zM804 669h1v1h-1zM805 668h1v1h-1zM806 667h1v1h-1zM807 666h1v1h-1zM808 664h1v2h-1zM809 663h1v1h-1zM810 662h1v1h-1zM811 661h1v1h-1zM812 659h1v2h-1zM813 658h1v1h-1zM814 657h1v1h-1zM815 656h1v1h-1zM816 654h1v2h-1zM817 653h1v1h-1zM818 652h1v1h-1zM819 651h1v1h-1zM820 649h1v2h-1zM821 648h1v1h-1zM822 647h1v1h-1zM823 645h1v2h-1zM824 644h1v1h-1zM825 643h1v1h-1zM826 642h1v1h-1zM827 640h1v2h-1zM828 639h1v1h-1zM829 638h1v1h-1zM830 637h1v1h-1zM831 635h1v2h-1zM832 634h1v1h-1zM833 633h1v1h-1zM834 632h1v1h-1zM835 631h1v1h-1zM836 629h1v2h-1zM837 628h1v1h-1zM838 627h1v1h-1zM839 626h1v1h-1zM840 624h1v2h-1zM841 623h1v1h-1zM842 622h1v1h-1zM843 621h1v1h-1zM844 619h1v2h-1zM845 618h1v1h-1zM846 617h1v1h-1zM847 616h1v1h-1zM848 614h1v2h-1zM849 613h1v1h-1zM850 612h1v1h-1zM851 611h1v1h-1zM852 609h1v2h-1zM853 608h1v1h-1zM854 607h1v1h-1zM855 605h1v2h-1zM856 604h1v1h-1zM857 603h1v1h-1zM858 601h1v2h-1zM859 600h1v1h-1zM860 599h1v1h-1zM861 597h1v2h-1zM862 596h1v1h-1zM863 595h1v1h-1zM864 593h1v2h-1zM865 592h1v1h-1zM866 591h1v1h-1zM867 589h1v2h-1zM868 588h1v1h-1zM869 587h1v1h-1zM870 585h1v2h-1zM871 584h1v1h-1zM872 583h1v1h-1zM873 581h1v2h-1zM874 580h1v1h-1zM875 579h1v1h-1zM876 577h1v2h-1zM877 576h1v1h-1zM878 575h1v1h-1zM879 573h1v2h-1zM880 572h1v1h-1zM881 570h1v2h-1zM882 569h1v1h-1zM883 568h1v1h-1zM884 566h1v2h-1zM885 565h1v1h-1zM886 564h1v1h-1zM887 562h1v2h-1zM888 561h1v1h-1zM889 560h1v1h-1zM890 558h1v2h-1zM891 557h1v1h-1zM892 555h1v2h-1zM893 554h1v1h-1zM894 553h1v1h-1zM895 551h1v2h-1zM896 550h1v1h-1zM897 549h1v1h-1zM898 547h1v2h-1zM899 546h1v1h-1zM900 545h1v1h-1zM901 543h1v2h-1zM902 542h1v1h-1zM903 540h1v2h-1zM904 539h1v1h-1zM905 538h1v1h-1zM906 536h1v2h-1zM907 535h1v1h-1zM908 534h1v1h-1zM909 532h1v2h-1zM910 531h1v1h-1zM911 529h1v2h-1zM912 528h1v1h-1zM913 527h1v1h-1zM914 525h1v2h-1zM915 524h1v1h-1zM916 523h1v1h-1zM917 521h1v2h-1zM918 520h1v1h-1zM919 519h1v1h-1zM920 517h1v2h-1zM921 516h1v1h-1zM922 514h1v2h-1zM923 513h1v1h-1zM924 512h1v1h-1zM925 510h1v2h-1zM926 509h1v1h-1zM927 508h1v1h-1zM928 506h1v2h-1zM929 505h1v1h-1zM930 504h1v1h-1zM931 502h1v2h-1zM932 501h1v1h-1zM933 499h1v2h-1zM934 498h1v1h-1zM935 497h1v1h-1zM936 495h1v2h-1zM937 494h1v1h-1zM938 493h1v1h-1zM939 491h1v2h-1zM940 490h1v1h-1zM941 489h1v1h-1zM942 487h1v2h-1zM943 486h1v1h-1zM944 485h1v1h-1zM945 483h1v2h-1zM946 482h1v1h-1zM947 481h1v1h-1zM948 480h1v1h-1zM949 478h1v2h-1zM950 477h1v1h-1zM951 476h1v1h-1zM952 474h1v2h-1zM953 473h1v1h-1zM954 472h1v1h-1zM955 471h1v1h-1zM956 469h1v2h-1zM957 468h1v1h-1zM958 467h1v1h-1zM959 466h1v1h-1zM960 465h1v1h-1zM961 463h1v2h-1zM962 462h1v1h-1zM963 461h1v1h-1zM964 460h1v1h-1zM965 459h1v1h-1zM966 458h1v1h-1zM967 456h1v2h-1zM968 455h1v1h-1zM969 454h1v1h-1zM970 453h1v1h-1zM971 452h1v1h-1zM972 451h1v1h-1zM973 450h1v1h-1zM974 449h1v1h-1zM975 448h1v1h-1zM976 447h1v1h-1zM977 446h1v1h-1zM978 445h1v1h-1zM979 444h1v1h-1zM980 443h1v1h-1zM981 442h1v1h-1zM982 441h2v1h-2zM984 440h1v1h-1zM985 439h1v1h-1zM986 438h1v1h-1zM987 437h1v1h-1zM988 436h1v1h-1zM989 435h2v1h-2zM991 434h1v1h-1zM992 433h1v1h-1zM993 432h2v1h-2zM995 431h1v1h-1zM996 430h1v1h-1zM997 429h2v1h-2zM999 428h1v1h-1zM1000 427h2v1h-2zM1002 426h1v1h-1zM1003 425h2v1h-2zM1005 424h1v1h-1zM1006 423h2v1h-2zM1008 422h1v1h-1zM1009 421h2v1h-2zM1011 420h1v1h-1zM1012 419h2v1h-2zM1014 418h2v1h-2zM1016 417h1v1h-1zM1017 416h2v1h-2zM1019 415h1v1h-1zM1020 414h2v1h-2zM1022 413h1v1h-1zM1023 412h2v1h-2z" fill="#17116e" shape-rendering="crispEdges"/>
<path d="M156 141h1v1h-1zM157 142h1v1h-1zM158 143h1v1h-1zM159 144h1v1h-1zM160 145h1v1h-1zM161 146h2v1h-2zM163 147h1v1h-1zM164 148h1v1h-1zM165 149h1v1h-1zM166 150h1v1h-1zM167 151h1v1h-1zM168 152h1v1h-1zM169 153h1v1h-1zM170 154h1v1h-1zM171 155h2v1h-2zM173 156h1v1h-1zM174 157h1v1h-1zM175 158h1v1h-1zM176 159h1v2h-1zM177 161h1v2h-1zM178 163h1v2h-1zM179 165h1v2h-1zM180 167h1v3h-1zM181 170h1v2h-1zM182 172h1v2h-1zM183 174h1v2h-1zM184 176h1v3h-1zM185 179h1v2h-1zM186 181h1v2h-1zM187 183h1v2h-1zM188 185h1v2h-1zM189 187h1v3h-1zM190 190h1v2h-1zM191 192h1v2h-1zM192 194h1v2h-1zM193 196h1v3h-1zM194 199h1v2h-1zM195 201h1v2h-1zM196 203h1v2h-1zM197 205h1v4h-1zM198 209h1v4h-1zM199 213h1v5h-1zM200 218h1v4h-1zM201 222h1v5h-1zM202 227h1v4h-1zM203 231h1v5h-1zM204 236h1v4h-1zM205 240h1v5h-1zM206 245h1v4h-1zM207 249h1v5h-1zM208 254h1v4h-1zM209 258h1v5h-1zM210 263h1v4h-1zM211 267h1v5h-1zM212 272h1v4h-1zM213 276h1v5h-1zM214 281h1v4h-1zM215 285h1v5h-1zM216 290h1v4h-1zM217 294h1v5h-1zM218 299h1v6h-1zM219 305h1v6h-1zM220 311h1v6h-1zM221 317h1v6h-1zM222 323h1v7h-1zM223 330h1v6h-1zM224 336h1v6h-1zM225 342h1v6h-1zM226 348h1v7h-1zM227 355h1v6h-1zM228 361h1v6h-1zM229 367h1v6h-1zM230 373h1v7h-1zM231 380h1v6h-1zM232 386h1v6h-1zM233 392h1v6h-1zM234 398h1v7h-1zM235 405h1v6h-1zM236 411h1v6h-1zM237 417h1v6h-1zM238 423h1v7h-1zM239 430h1v6h-1zM240 436h1v6h-1zM241 442h1v6h-1zM242 448h1v7h-1zM243 455h1v6h-1zM244 461h1v6h-1zM245 467h1v6h-1zM246 473h1v7h-1zM247 480h1v6h-1zM248 486h1v6h-1zM249 492h1v6h-1zM250 498h1v7h-1zM251 505h1v6h-1zM252 511h1v6h-1zM253 517h1v6h-1zM254 523h1v7h-1zM255 530h1v6h-1zM256 536h1v6h-1zM257 542h1v6h-1zM258 548h1v7h-1zM259 555h1v6h-1zM260 561h1v5h-1zM261 566h1v6h-1zM262 572h1v6h-1zM263 578h1v5h-1zM264 583h1v6h-1zM265 589h1v6h-1zM266 595h1v5h-1zM267 600h1v6h-1zM268 606h1v5h-1zM269 611h1v6h-1zM270 617h1v6h-1zM271 623h1v5h-1zM272 628h1v6h-1zM273 634h1v6h-1zM274 640h1v5h-1zM275 645h1v6h-1zM276 651h1v5h-1zM277 656h1v6h-1zM278 662h1v6h-1zM279 668h1v5h-1zM280 673h1v4h-1zM281 677h1v4h-1zM282 681h1v4h-1zM283 685h1v4h-1zM284 689h1v3h-1zM285 692h1v4h-1zM286 696h1v4h-1zM287 700h1v4h-1zM288 704h1v3h-1zM289 707h1v4h-1zM290 711h1v4h-1zM291 715h1v4h-1zM292 719h1v3h-1zM293 722h1v4h-1zM294 726h1v4h-1zM295 730h1v4h-1zM296 734h1v3h-1zM297 737h1v4h-1zM298 741h1v4h-1zM299 745h1v3h-1zM300 748h1v2h-1zM301 750h1v1h-1zM302 751h1v2h-1zM303 753h1v2h-1zM304 755h1v2h-1zM305 757h1v2h-1zM306 759h1v2h-1zM307 761h1v1h-1zM308 762h1v2h-1zM309 764h1v2h-1zM310 766h1v2h-1zM311 768h1v2h-1zM312 770h1v2h-1zM313 772h1v1h-1zM314 773h1v2h-1zM315 775h1v2h-1zM316 777h1v2h-1zM317 779h1v2h-1zM318 781h1v1h-1zM319 782h1v2h-1zM320 784h1v2h-1zM321 786h1v1h-1zM322 787h1v1h-1zM323 788h2v1h-2zM325 789h1v1h-1zM326 790h2v1h-2zM328 791h1v1h-1zM329 792h1v1h-1zM330 793h2v1h-2zM332 794h1v1h-1zM333 795h2v1h-2zM335 796h1v1h-1zM336 797h2v1h-2zM338 798h1v1h-1zM339 799h1v1h-1zM340 800h2v1h-2zM342 801h134v1h-134zM476 800h14v1h-14zM490 799h7v1h-7zM497 798h7v1h-7zM504 797h6v1h-6zM510 796h5v1h-5zM515 795h6v1h-6zM521 794h5v1h-5zM526 793h4v1h-4zM530 792h3v1h-3zM533 791h3v1h-3zM536 790h2v1h-2zM538 789h3v1h-3zM541 788h3v1h-3zM544 787h3v1h-3zM547 786h3v1h-3zM550 785h2v1h-2zM552 784h3v1h-3zM555 783h3v1h-3zM558 782h2v1h-2zM560 781h3v1h-3zM563 780h3v1h-3zM566 779h2v1h-2zM568 778h3v1h-3zM571 777h3v1h-3zM574 776h3v1h-3zM577 775h3v1h-3zM580 774h3v1h-3zM583 773h3v1h-3zM586 772h3v1h-3zM589 771h3v1h-3zM592 770h4v1h-4zM596 769h4v1h-4zM600 768h4v1h-4zM604 767h4v1h-4zM608 766h8v1h-8zM616 765h10v1h-10zM626 764h16v1h-16zM642 765h41v1h-41zM683 766h42v1h-42zM725 767h13v1h-13zM738 768h7v1h-7zM745 769h7v1h-7zM752 770h6v1h-6zM758 771h5v1h-5zM763 772h6v1h-6zM769 773h5v1h-5zM774 774h6v1h-6zM780 775h7v1h-7zM787 776h6v1h-6zM793 777h7v1h-7zM800 778h7v1h-7zM807 779h7v1h-7zM814 780h14v1h-14zM828 781h36v1h-36zM864 780h10v1h-10zM874 779h9v1h-9zM883 778h7v1h-7zM890 777h7v1h-7zM897 776h8v1h-8zM905 775h10v1h-10zM915 774h16v1h-16zM931 773h21v1h-21zM952 772h41v1h-41zM993 773h32v1h-32z" fill="#9e449e" shape-rendering="crispEdges"/>
</svg>
</body></html>
